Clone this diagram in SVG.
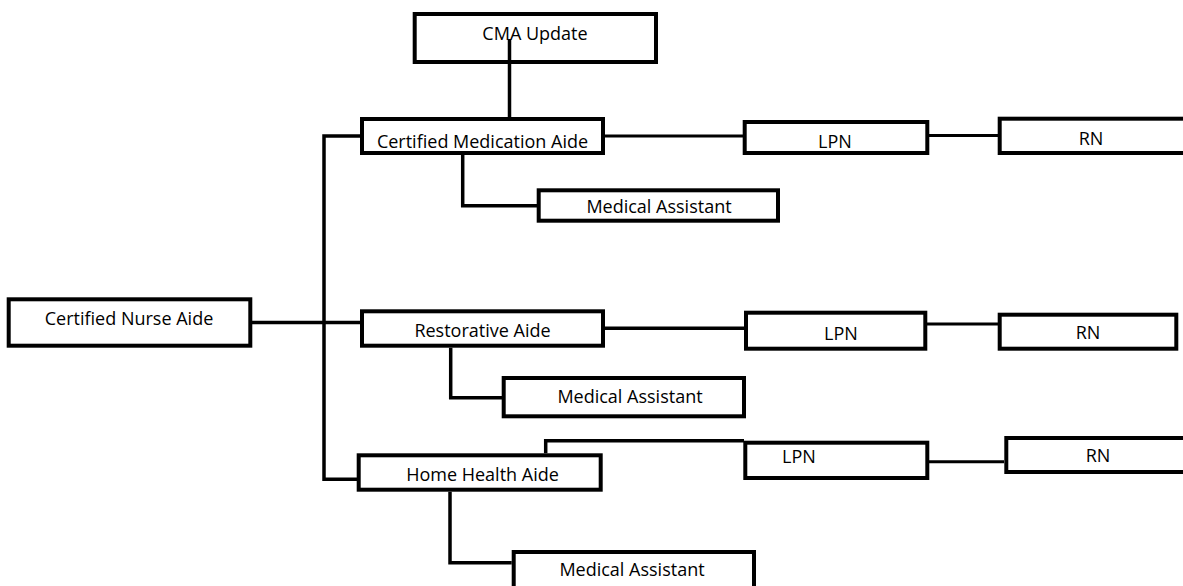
<svg xmlns="http://www.w3.org/2000/svg" width="1183" height="586" viewBox="0 0 1183 586">
<style>
.box{fill:#fff;stroke:#000;stroke-width:4}
.lbl{font-family:"Open Sans","Liberation Sans",sans-serif;font-size:18px;fill:#000;text-anchor:middle}
.con{fill:none;stroke:#000;stroke-width:3.5}
.thin{stroke-width:3}
</style>
<rect width="1183" height="586" fill="#fff"/>
<g id="nodes">
<g id="cma-update"><rect class="box" x="414.7" y="14" width="241.3" height="48"/><text class="lbl" x="535" y="40">CMA Update</text></g>
<g id="cert-med-aide"><rect class="box" x="362" y="119" width="241" height="34"/><text class="lbl" x="482.5" y="148">Certified Medication Aide</text></g>
<g id="med-assist-1"><rect class="box" x="538.7" y="190.3" width="239.3" height="30.4"/><text class="lbl" x="659" y="213">Medical Assistant</text></g>
<g id="lpn-1"><rect class="box" x="744.7" y="122" width="182.6" height="31"/><text class="lbl" x="835" y="148">LPN</text></g>
<g id="rn-1"><rect class="box" x="999.7" y="118.7" width="200" height="34.3"/><text class="lbl" x="1091" y="145">RN</text></g>
<g id="cert-nurse-aide"><rect class="box" x="8.7" y="299.3" width="241.6" height="46.4"/><text class="lbl" x="129" y="325">Certified Nurse Aide</text></g>
<g id="restorative-aide"><rect class="box" x="362" y="311.3" width="241" height="34.4"/><text class="lbl" x="482.5" y="336.5">Restorative Aide</text></g>
<g id="med-assist-2"><rect class="box" x="503.7" y="378" width="240.3" height="38.3"/><text class="lbl" x="630" y="402.5">Medical Assistant</text></g>
<g id="lpn-2"><rect class="box" x="746" y="312.7" width="179.3" height="36"/><text class="lbl" x="841" y="340">LPN</text></g>
<g id="rn-2"><rect class="box" x="999.7" y="314.7" width="176.6" height="34"/><text class="lbl" x="1088" y="339">RN</text></g>
<g id="home-health-aide"><rect class="box" x="358.7" y="455.3" width="242" height="34.4"/><text class="lbl" x="482.5" y="481">Home Health Aide</text></g>
<g id="lpn-3"><rect class="box" x="745.3" y="442.7" width="182" height="35.3"/><text class="lbl" x="799" y="463">LPN</text></g>
<g id="rn-3"><rect class="box" x="1006.3" y="438" width="200" height="34"/><text class="lbl" x="1098" y="462">RN</text></g>
<g id="med-assist-3"><rect class="box" x="513.7" y="552" width="240.3" height="50"/><text class="lbl" x="632" y="576">Medical Assistant</text></g>
</g>
<g id="connectors">
<path class="con" d="M509.5,39 V117"/>
<path class="con" d="M360,136 H324 V479.3 H357"/>
<path class="con" d="M252,322.5 H360"/>
<path class="con" d="M462.7,155 V205.7 H537"/>
<path class="con thin" d="M605,136 H743"/>
<path class="con thin" d="M929,135.5 H998"/>
<path class="con" d="M605,328.3 H744"/>
<path class="con" d="M450.7,347.7 V397.7 H502"/>
<path class="con thin" d="M927,324 H998"/>
<path class="con" d="M545.7,453.3 V440.7 H744"/>
<path class="con thin" d="M929,461.7 H1004"/>
<path class="con" d="M450,491.7 V562.7 H511.7"/>
</g>
</svg>
